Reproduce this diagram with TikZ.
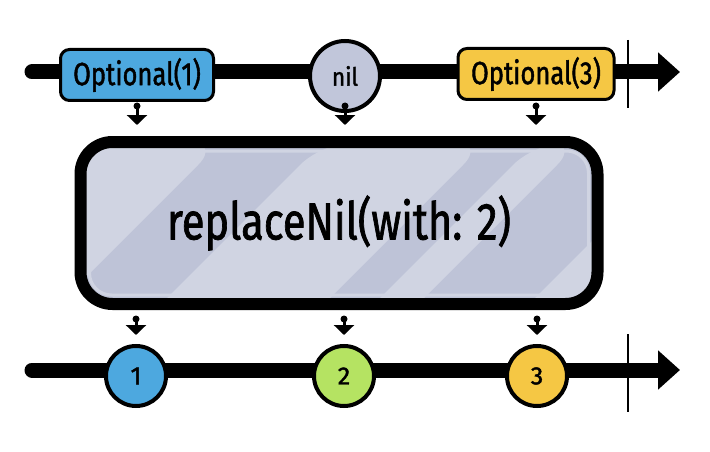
\documentclass[tikz,border=0pt]{standalone}
\usepackage{fontspec}
\setmainfont{Fira Sans}
\newfontfamily\hand{Fira Sans}[FakeBold=1.6]
\usetikzlibrary{arrows.meta,calc}
\definecolor{cblue}{HTML}{4DA8DF}
\definecolor{cyellow}{HTML}{F5C744}
\definecolor{cgreen}{HTML}{B5E362}
\definecolor{cnil}{HTML}{C1C6DA}
\definecolor{cbox}{HTML}{BEC3D7}
\definecolor{cband}{HTML}{D0D4E2}
\newcommand{\myhsq}[2]{\scalebox{#1}[1]{#2}}
\begin{document}
\begin{tikzpicture}[x=1pt,y=-1pt,
  lane/.style={line width=15pt, line cap=round, -{Triangle[length=22pt,width=38pt]}},
  tickline/.style={line width=2.5pt},
  optbox/.style={draw, line width=3pt, rounded corners=9pt, minimum width=153pt,
    minimum height=51pt, inner sep=0pt, font=\hand\fontsize{32}{34}\selectfont},
  ball/.style={draw, line width=4pt, circle, minimum size=60pt, inner sep=0pt,
    font=\hand\fontsize{25}{27}\selectfont},
  bigbox/.style={draw, line width=12pt, rounded corners=32pt, fill=cbox,
    minimum width=517pt, minimum height=162pt, inner sep=0pt,
    font=\hand\fontsize{52}{56}\selectfont},
  drop/.style={line width=3pt, -{Triangle[length=10pt,width=20pt]}},
  dot/.style={fill, circle, inner sep=0pt, minimum size=7pt},
]
\useasboundingbox (0,0) rectangle (710,452);

% timelines
\coordinate (ts) at (32,72);
\coordinate (te) at (680,72);
\coordinate (bs) at (32,370);
\coordinate (be) at (680,370);
\draw[lane] (ts) -- (te);
\draw[lane] (bs) -- (be);
\coordinate (tk1a) at (628,40);
\coordinate (tk1b) at (628,108);
\coordinate (tk2a) at (628,334);
\coordinate (tk2b) at (628,412);
\draw[tickline] (tk1a) -- (tk1b);
\draw[tickline] (tk2a) -- (tk2b);

% input events
\node[optbox, fill=cblue] (o1) at (137,75) {\myhsq{0.8}{Optional(1)}};
\node[ball, fill=cnil, minimum size=70pt] (nil) at (345,76) {\myhsq{0.9}{nil}};
\node[optbox, fill=cyellow, minimum width=156pt] (o3) at (536,74) {\myhsq{0.8}{Optional(3)}};

% operator
\node[bigbox, path picture={
    \foreach \a/\b in {-100/140.5, 242.5/405.5, 455.5/499.5, 610.5/900}
      \fill[cband] ($(path picture bounding box.north west)+(\a,0)$) -- ++(\b-\a,0)
        -- ++(-220,220) -- ++(\a-\b,0) -- cycle;
    \draw[cband, line width=3pt, rounded corners=22pt]
      ($(path picture bounding box.north west)+(9,9)$) rectangle
      ($(path picture bounding box.south east)+(-9,-9)$);
  }] (op) at (339,223) {\myhsq{0.8}{replaceNil(with: 2)}};

% output events
\node[ball, fill=cblue] (c1) at (136,376) {1};
\node[ball, fill=cgreen] (c2) at (344,376) {2};
\node[ball, fill=cyellow] (c3) at (537,376) {3};

% drops into operator
\foreach \n in {o1,nil,o3}{
  \node[dot] (d\n) at ($(op.north -| \n)+(0,-30)$) {};
  \draw[drop, shorten >=11pt] (d\n.center) -- (op.north -| \n);
}
% drops out of operator
\foreach \n in {c1,c2,c3}{
  \node[dot] (e\n) at ($(op.south -| \n)+(0,9)$) {};
  \draw[drop, shorten >=9pt] (e\n.center) -- (\n.north);
}
\end{tikzpicture}
\end{document}
